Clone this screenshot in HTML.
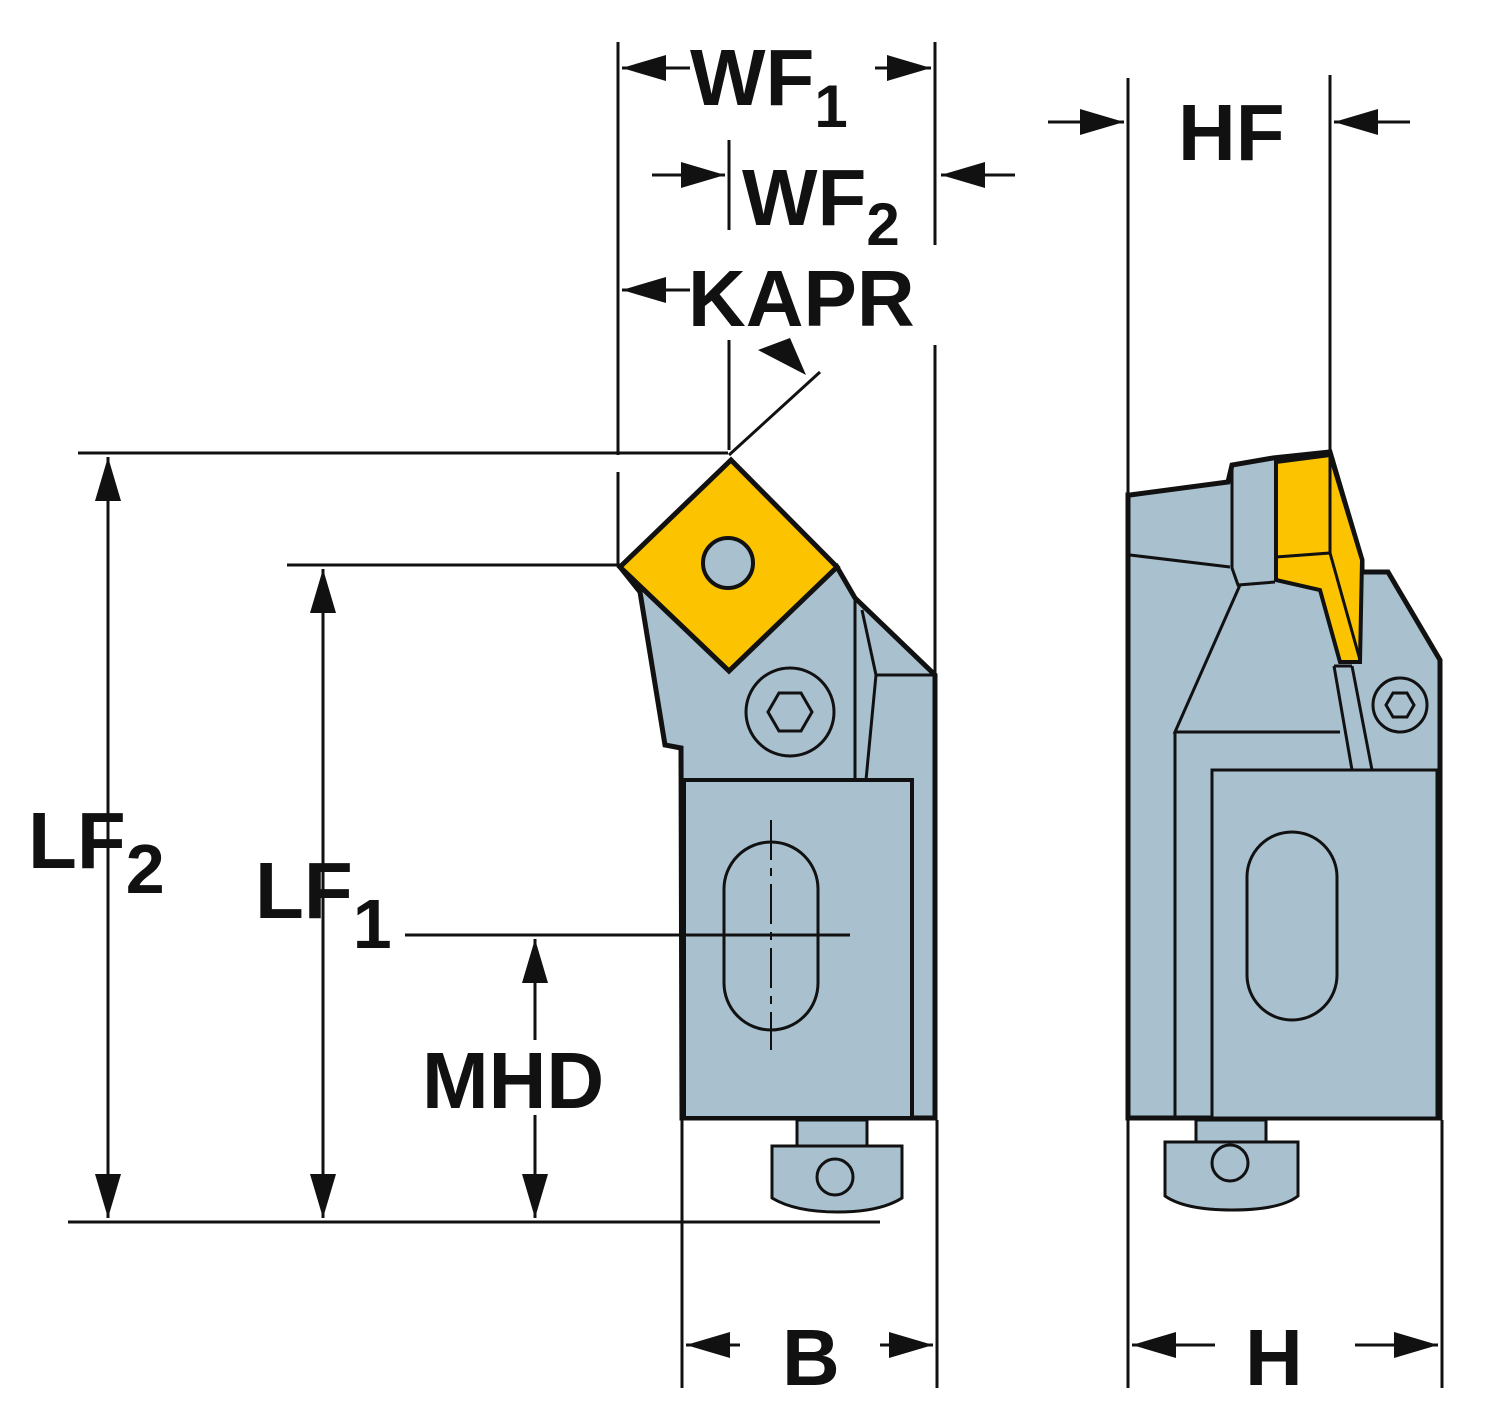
<!DOCTYPE html>
<html><head><style>html,body{margin:0;padding:0;background:#fff}svg{display:block}</style></head>
<body>
<svg width="1500" height="1423" viewBox="0 0 1500 1423" xmlns="http://www.w3.org/2000/svg" font-family="Liberation Sans, sans-serif">
<defs>
<marker id="a" viewBox="0 0 44 26" refX="44" refY="13" markerWidth="44" markerHeight="26" markerUnits="userSpaceOnUse" orient="auto-start-reverse"><path d="M0,0 L44,13 L0,26z" fill="#111"/></marker>
</defs>
<g stroke="#111" stroke-width="4" fill="none">
<path d="M620,567 L640,592 L665,745 L681,748 L682,1118 L935,1118 L935,675 L855,598 L837,567 L729,670 Z" fill="#a9c0cf" stroke-width="5"/>
<rect x="684" y="780" width="228" height="338" fill="#a9c0cf"/>
<path d="M855,600 L855,780 M862,610 L876,675 L866,780 M876,675 L935,675" stroke-width="3"/>
<circle cx="790" cy="712" r="44" fill="#a9c0cf" stroke-width="3"/>
<polygon points="768,712 779,693 801,693 812,712 801,731 779,731" stroke-width="3"/>
<polygon points="731,460 837,567 729,671 620,567" fill="#fcc400" stroke-width="5"/>
<circle cx="728" cy="563" r="25" fill="#a9c0cf" stroke-width="4"/>
<rect x="724" y="842" width="94" height="188" rx="47" stroke-width="3"/>
<path d="M771,820 L771,1050" stroke-dasharray="40,8,8,8" stroke-width="2"/>
<path d="M405,935 L850,935" stroke-width="3"/>
<rect x="797" y="1120" width="70" height="26" fill="#a9c0cf" stroke-width="3"/>
<path d="M772,1146 L902,1146 L902,1198 Q880,1212 838,1212 Q795,1212 772,1198 Z" fill="#a9c0cf" stroke-width="3"/>
<circle cx="835" cy="1177" r="18" stroke-width="3"/>
<path d="M1130,495 L1228,482 L1232,465 L1273,458 L1330,452 L1362,560 L1362,572 L1388,572 L1440,660 L1440,1118 L1128,1118 L1128,495 Z" fill="#a9c0cf" stroke-width="5"/>
<path d="M1130,555 L1230,567 M1232,465 L1232,568 L1238,585 L1275,582 M1240,585 L1175,732 L1340,732 M1175,732 L1175,1118" stroke-width="3"/>
<rect x="1212" y="770" width="225" height="348" fill="#a9c0cf" stroke-width="3"/>
<path d="M1276,462 L1330,455 L1362,560 L1360,662 L1340,662 L1320,590 L1276,580 Z" fill="#fcc400" stroke-width="4"/>
<path d="M1276,557 L1330,553 L1360,660 M1330,455 L1330,553" stroke-width="3"/>
<path d="M1334,666 L1352,770 M1352,666 L1372,770 M1334,666 L1352,666" stroke-width="3" fill="#a9c0cf"/>
<circle cx="1400" cy="705" r="27" fill="#a9c0cf" stroke-width="3"/>
<polygon points="1386,705 1393,693 1407,693 1414,705 1407,717 1393,717" stroke-width="3"/>
<rect x="1247" y="832" width="90" height="188" rx="45" stroke-width="3"/>
<rect x="1196" y="1120" width="70" height="22" fill="#a9c0cf" stroke-width="3"/>
<path d="M1165,1142 L1298,1142 L1298,1196 Q1280,1210 1232,1210 Q1185,1210 1165,1196 Z" fill="#a9c0cf" stroke-width="3"/>
<circle cx="1230" cy="1163" r="18" stroke-width="3"/>
</g>
<g stroke="#111" stroke-width="3" fill="none">
<path d="M78,453 L728,453 M68,1222 L880,1222 M287,565 L620,565"/>
<path d="M618,42 L618,455 M618,472 L618,565 M935,42 L935,245 M935,345 L935,680 M729,140 L729,230 M729,340 L729,450 M729,455 L820,372"/>
<path d="M682,1120 L682,1388 M937,1120 L937,1388 M1128,78 L1128,495 M1330,75 L1330,452 M1128,1120 L1128,1388 M1442,1120 L1442,1388"/>
<path d="M108,1218 L108,457" marker-start="url(#a)" marker-end="url(#a)"/>
<path d="M323,1218 L323,569" marker-start="url(#a)" marker-end="url(#a)"/>
<path d="M535,1040 L535,939" marker-end="url(#a)"/>
<path d="M535,1115 L535,1218" marker-end="url(#a)"/>
<path d="M690,68 L622,68" marker-end="url(#a)"/>
<path d="M875,68 L931,68" marker-end="url(#a)"/>
<path d="M652,175 L725,175" marker-end="url(#a)"/>
<path d="M1015,175 L941,175" marker-end="url(#a)"/>
<path d="M690,290 L622,290" marker-end="url(#a)"/>
<path d="M1048,122 L1124,122" marker-end="url(#a)"/>
<path d="M1410,122 L1334,122" marker-end="url(#a)"/>
<path d="M740,1345 L686,1345" marker-end="url(#a)"/>
<path d="M880,1345 L933,1345" marker-end="url(#a)"/>
<path d="M1215,1345 L1132,1345" marker-end="url(#a)"/>
<path d="M1355,1345 L1438,1345" marker-end="url(#a)"/>
</g>
<path d="M758,350 L790,338 L806,375 Z" fill="#111"/>
<g fill="#111" font-size="80" font-weight="bold">
<text x="690" y="105">WF<tspan font-size="60" dy="22">1</tspan></text>
<text x="742" y="225">WF<tspan font-size="60" dy="20">2</tspan></text>
<text x="688" y="326">KAPR</text>
<text x="1178" y="160">HF</text>
<text x="28" y="868">LF<tspan font-size="70" dy="25">2</tspan></text>
<text x="255" y="918">LF<tspan font-size="70" dy="30">1</tspan></text>
<text x="422" y="1108">MHD</text>
<text x="782" y="1385">B</text>
<text x="1245" y="1385">H</text>
</g>
</svg>
</body></html>
